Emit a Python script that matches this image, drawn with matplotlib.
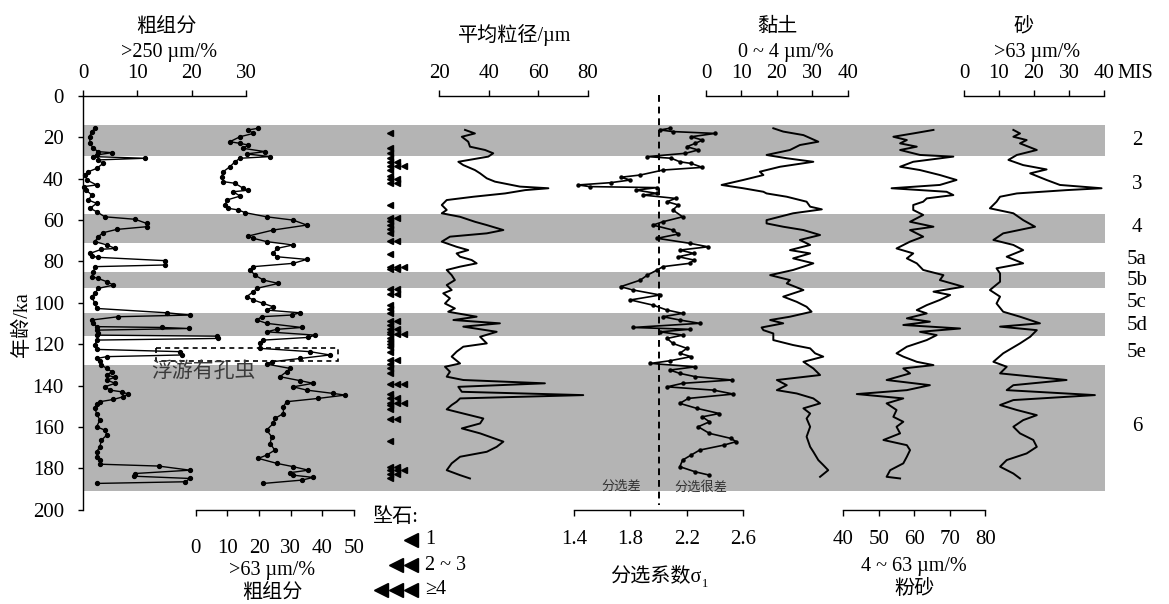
import matplotlib
matplotlib.use('Agg')
import matplotlib.pyplot as plt
from matplotlib.patches import Rectangle

plt.rcParams['font.family'] = ['Liberation Serif', 'Noto Sans CJK SC', 'DejaVu Sans']
plt.rcParams['axes.unicode_minus'] = False

# ---------------- data ----------------
age_ticks = [0, 20, 40, 60, 80, 100, 120, 140, 160, 180, 200]
mis_bands = [(14, 29), (57, 71), (85, 93), (105, 116), (130, 191)]
mis_labels = ['2', '3', '4', '5a', '5b', '5c', '5d', '5e', '6']
mis_ages = [21.6, 42.6, 63.5, 79, 89.4, 99.6, 111, 124, 160]

# coarse fraction >250 um (%)
c250_age = [15.6, 17.2, 19.7, 22.9, 25.3, 26.9, 27.4, 28.5, 29.3, 30.1, 30.9, 32.6, 35.0, 36.6, 38.2,
            40.6, 43.0, 43.8, 45.5, 47.9, 50.3, 51.9, 54.3, 55.9, 58.4, 59.6, 61.6, 63.2, 64.5, 66.1,
            68.0, 70.4, 72.0, 73.7, 74.1, 76.1, 77.4, 78.0, 79.6, 81.7, 82.5, 85.0, 87.4, 88.2, 89.8,
            91.4, 93.0, 95.4, 97.0, 100.3, 102.7, 104.8, 105.9, 106.7, 108.3, 109.9, 111.5, 111.9, 112.4,
            113.2, 114.4, 115.6, 116.1, 117.2, 118.0, 120.4, 122.5, 123.6, 125.2, 126.0, 126.9, 128.0,
            130.1, 131.7, 133.3, 134.9, 136.0, 137.3, 138.9, 140.6, 142.2, 143.0, 144.1, 145.4, 146.7,
            147.8, 148.9, 151.0, 153.5, 156.7, 159.9, 161.5, 163.9, 166.3, 169.6, 172.0, 174.4, 176.0,
            178.0, 178.9, 180.9, 182.5, 183.8, 184.9, 186.5, 187.3]
c250_val = [2.2, 1.6, 1.2, 1.3, 1.9, 2.8, 5.3, 2.5, 1.9, 11.4, 2.8, 3.7, 2.5, 1.0, 0.4,
            0.7, 2.5, 0.2, 0.6, 1.6, 1.0, 2.5, 1.3, 2.5, 4.0, 9.6, 11.7, 11.7, 6.2, 3.7,
            2.8, 2.2, 4.4, 5.9, 3.4, 1.3, 1.6, 2.8, 15.1, 15.1, 2.2, 1.9, 1.6, 2.8, 4.4,
            5.6, 2.8, 2.2, 1.6, 2.2, 2.5, 15.4, 19.7, 6.5, 1.6, 1.9, 2.5, 14.5, 19.5,
            2.5, 2.8, 2.5, 24.6, 24.9, 2.5, 2.2, 2.5, 17.9, 18.2, 4.4, 2.5, 3.1,
            3.4, 4.4, 5.3, 4.4, 5.9, 4.4, 5.9, 4.0, 5.0, 7.1, 8.3, 7.4, 5.6,
            3.1, 2.5, 2.2, 2.5, 3.1, 2.5, 4.0, 4.4, 3.4, 3.1, 2.5, 2.6, 3.1,
            3.1, 13.9, 19.7, 9.6, 9.3, 19.7, 18.8, 2.5]

# coarse fraction >63 um (%)
c63_age = [15.6, 16.4, 18.1, 19.7, 22.1, 22.9, 23.7, 25.3, 26.9, 28.0, 29.3, 30.1, 31.8, 34.2, 36.6,
           39.0, 41.4, 42.2, 44.6, 45.5, 46.3, 48.4, 50.3, 52.7, 54.3, 55.1, 56.4, 58.4, 60.0, 62.4,
           64.8, 67.7, 68.8, 70.4, 72.0, 73.7, 76.1, 77.7, 79.0, 80.9, 82.5, 84.1, 86.6, 89.0, 90.6,
           93.0, 94.6, 97.0, 98.6, 100.3, 101.9, 103.5, 104.8, 105.9, 106.7, 108.3, 109.9, 111.9, 112.8,
           114.0, 115.6, 116.7, 118.0, 119.6, 122.0, 123.6, 125.2, 126.9, 128.5, 129.6, 131.7, 133.3,
           135.7, 137.6, 138.9, 140.6, 142.2, 143.8, 144.6, 146.2, 147.8, 150.2, 153.5, 155.9, 158.3,
           161.5, 164.7, 168.0, 171.2, 173.6, 175.2, 177.6, 179.2, 180.9, 182.1, 183.3, 184.4, 185.7, 187.3]
c63_val = [19.8, 16.6, 18.2, 14.0, 10.8, 14.0, 16.6, 15.0, 21.9, 16.1, 23.5, 14.0, 12.4, 10.8, 8.7,
           8.2, 8.7, 12.4, 15.0, 16.6, 11.9, 14.0, 9.8, 9.3, 10.3, 13.5, 15.6, 22.4, 30.8, 35.1,
           24.5, 16.6, 18.2, 22.4, 30.8, 25.6, 24.5, 25.6, 35.1, 30.8, 18.2, 17.2, 18.7, 21.4, 26.1,
           19.3, 18.2, 16.1, 18.2, 21.4, 24.5, 22.4, 32.9, 30.3, 20.8, 19.3, 22.4, 33.5, 25.6,
           22.4, 37.7, 35.6, 21.4, 20.3, 20.3, 36.1, 42.4, 32.9, 24.0, 22.4, 29.8, 28.7,
           26.6, 32.9, 37.1, 30.8, 35.1, 43.5, 47.2, 38.7, 28.7, 27.7, 27.7, 25.0, 24.5,
           22.4, 24.0, 23.5, 25.0, 22.4, 19.8, 25.6, 30.8, 35.6, 29.8, 30.8, 37.1, 33.5, 21.4]

# dropstones (age ka, count of triangles)
drop_age = [17.7, 25.3, 27.7, 30.1, 31.8, 33.9, 35.8, 38.7, 40.3, 42.2, 52.7, 58.8, 60.3, 62.4, 64.5,
            66.4, 69.9, 76.4, 82.5, 83.8, 93.5, 95.7, 101.1, 103.2, 105.1, 108.6, 110.7, 112.8, 113.9,
            115.2, 117.2, 118.3, 119.9, 121.2, 123.6, 127.7, 129.6, 131.7, 134.1, 139.3, 144.1, 146.2,
            148.3, 149.4, 151.5, 156.3, 166.7, 179.2, 180.9, 182.5, 184.9]
drop_cnt = [1, 1, 1, 1, 2, 3, 1, 1, 2, 2, 1, 2, 1, 1, 1,
            1, 2, 1, 3, 2, 2, 2, 1, 1, 1, 2, 1, 2, 1,
            3, 1, 1, 1, 1, 1, 2, 1, 1, 1, 3, 1, 2,
            3, 1, 1, 2, 1, 2, 3, 2, 1]

# mean grain size (um)
mgs_age = [16.4, 18.1, 19.7, 22.1, 24.5, 26.1, 27.7, 29.3, 31.8, 33.4, 35.8, 37.4, 39.8, 41.4, 43.8,
           44.6, 45.5, 47.1, 48.7, 50.3, 52.7, 55.1, 56.7, 58.4, 60.8, 62.4, 64.8, 66.4, 68.0, 70.4,
           72.9, 74.5, 76.1, 77.7, 79.3, 80.9, 82.5, 84.1, 86.6, 89.0, 91.4, 93.8, 95.4, 97.8, 100.3,
           102.7, 104.3, 106.7, 108.3, 109.9, 111.5, 114.0, 116.4, 119.6, 121.2, 123.6, 126.0, 129.3,
           130.9, 133.3, 135.7, 137.3, 138.9, 140.6, 143.0, 144.6, 146.2, 147.8, 149.4, 151.5, 153.5,
           155.9, 158.3, 160.7, 163.1, 167.1, 169.6, 172.0, 174.4, 177.6, 180.9, 183.3, 184.9]
mgs_val = [30.4, 34.4, 29.1, 31.7, 32.4, 38.5, 41.8, 39.8, 27.7, 29.7, 34.4, 36.5, 39.2, 42.5, 52.6,
           64.1, 54.7, 46.6, 33.8, 23.0, 21.0, 23.0, 21.0, 28.4, 34.4, 39.2, 45.9, 39.2, 24.3, 21.0,
           27.0, 31.7, 27.0, 28.4, 33.1, 35.1, 28.4, 23.0, 25.0, 26.3, 23.0, 25.0, 21.6, 24.3, 22.3,
           26.3, 23.6, 35.1, 25.7, 44.5, 29.7, 43.2, 36.5, 39.2, 29.7, 27.0, 25.0, 28.4,
           22.3, 24.3, 23.0, 29.7, 62.7, 27.7, 29.1, 78.2, 28.4, 27.0, 25.0, 23.0, 29.7,
           37.8, 36.5, 29.1, 36.5, 45.9, 43.2, 39.2, 28.4, 25.0, 23.0, 28.4, 32.4]

# sorting coefficient sigma1
sig_age = [15.6, 16.4, 17.2, 18.1, 19.7, 21.3, 22.9, 24.5, 26.1, 27.7, 29.3, 30.1, 31.8, 32.6, 34.5,
           35.8, 38.2, 39.3, 40.6, 41.9, 43.0, 43.8, 44.3, 45.5, 47.1, 47.9, 49.5, 51.1, 52.7, 55.1,
           58.4, 60.8, 62.4, 64.8, 66.7, 68.8, 71.2, 72.9, 74.5, 76.1, 77.7, 79.3, 80.9, 82.5, 84.1,
           86.6, 89.0, 92.2, 93.8, 96.2, 98.6, 101.1, 103.5, 105.1, 106.7, 108.3, 109.9, 111.9, 112.8,
           114.0, 115.6, 117.2, 119.6, 122.0, 124.4, 126.0, 128.0, 129.3, 130.9, 132.5, 134.1, 135.7,
           137.3, 138.9, 140.6, 142.2, 144.1, 146.2, 148.6, 151.0, 153.5, 155.1, 157.5, 159.9, 163.1,
           165.5, 167.1, 168.8, 171.2, 173.6, 176.0, 179.2, 181.7, 183.3]
sig_val = [2.08, 2.01, 2.10, 2.40, 2.23, 2.31, 2.26, 2.20, 2.28, 2.19, 1.92, 2.09, 2.15, 2.23, 2.31,
           2.03, 1.87, 1.73, 1.80, 1.66, 1.43, 1.51, 1.99, 1.84, 1.99, 1.89, 2.12, 2.06, 2.14, 2.10,
           2.17, 2.03, 1.96, 2.10, 2.14, 1.99, 2.22, 2.35, 2.15, 2.25, 2.14, 2.25, 2.22, 2.03, 1.99,
           1.92, 1.87, 1.73, 1.82, 2.01, 1.80, 1.96, 2.06, 2.17, 2.03, 2.15, 2.29, 1.82, 2.22,
           2.01, 2.17, 2.06, 2.10, 2.20, 2.15, 2.23, 2.08, 1.94, 2.26, 2.08, 2.15, 2.26,
           2.52, 2.17, 2.06, 2.39, 2.53, 2.21, 2.15, 2.27, 2.43, 2.31, 2.36, 2.28, 2.36,
           2.51, 2.55, 2.46, 2.29, 2.23, 2.17, 2.15, 2.26, 2.36]
sort_threshold = 2.0

# clay 0-4 um (%)
clay_age = [15.6, 17.2, 18.9, 22.1, 23.7, 26.1, 28.5, 30.1, 31.8, 34.2, 36.6, 38.2, 40.6, 43.0, 44.6,
            46.3, 47.1, 48.7, 51.1, 53.5, 54.8, 56.7, 60.0, 61.6, 63.2, 64.8, 67.2, 69.6, 72.0, 74.5,
            76.1, 78.5, 80.9, 82.5, 84.1, 86.6, 89.0, 90.6, 93.8, 97.0, 99.5, 101.9, 104.3, 106.7,
            108.3, 109.9, 111.9, 113.2, 114.8, 118.0, 120.4, 122.0, 124.4, 126.0, 128.5, 131.7, 134.9,
            137.3, 139.8, 142.2, 143.8, 146.2, 148.6, 151.0, 153.5, 155.9, 159.9, 164.7, 169.6, 172.0,
            176.0, 178.4, 180.9, 184.1]
clay_val = [19.0, 21.8, 27.5, 31.7, 26.5, 23.7, 17.1, 22.8, 30.3, 20.9, 15.2, 16.2, 10.5, 4.4, 10.5,
            16.2, 17.1, 22.8, 28.4, 29.4, 32.7, 24.6, 17.1, 17.1, 21.8, 27.5, 32.2, 26.5, 29.4, 23.7,
            29.4, 24.6, 30.3, 27.5, 24.6, 18.1, 23.7, 22.8, 27.5, 21.8, 25.6, 28.4, 29.8, 23.7,
            18.1, 21.8, 15.7, 16.2, 19.0, 19.0, 24.6, 29.4, 30.8, 33.1, 27.5, 30.3, 32.2,
            20.0, 22.8, 20.0, 25.6, 30.3, 32.2, 27.5, 29.4, 28.4, 29.4, 28.4, 29.4, 30.3,
            31.7, 33.1, 34.5, 32.2]

# silt 4-63 um (%)
silt_age = [16.4, 18.1, 19.7, 21.3, 22.9, 24.5, 26.1, 28.5, 29.3, 31.8, 34.2, 35.8, 38.2, 40.6, 43.0,
            44.6, 46.3, 47.9, 49.5, 51.1, 52.7, 55.1, 57.5, 60.8, 63.2, 64.8, 68.0, 70.4, 73.7, 76.1,
            78.5, 80.9, 84.1, 86.6, 89.0, 92.2, 94.6, 96.2, 98.6, 101.1, 103.5, 105.1, 107.5, 109.1,
            110.7, 112.4, 114.0, 115.6, 118.0, 121.2, 124.4, 126.0, 128.5, 130.1, 131.7, 134.1, 137.3,
            139.8, 142.2, 144.1, 146.2, 148.6, 151.8, 155.1, 157.5, 159.9, 163.1, 166.3, 168.8, 171.2,
            174.4, 177.6, 180.9, 184.1, 184.9]
silt_val = [65.4, 59.7, 54.1, 57.9, 56.0, 60.7, 56.0, 61.6, 71.0, 59.7, 56.0, 61.6, 67.2, 71.9, 67.2,
            53.6, 69.1, 71.0, 63.5, 62.5, 59.7, 59.7, 62.5, 58.8, 65.4, 58.8, 62.5, 58.8, 55.0, 59.7,
            57.9, 60.7, 62.5, 68.2, 67.2, 73.8, 65.4, 70.1, 67.2, 63.5, 60.7, 63.5, 57.9, 64.4,
            56.9, 72.9, 61.6, 66.3, 63.5, 57.9, 55.0, 56.9, 60.7, 65.4, 56.9, 58.8, 52.2,
            64.4, 57.9, 43.8, 56.9, 52.2, 55.0, 54.1, 56.9, 55.0, 56.0, 51.3, 57.9, 58.8,
            57.9, 56.9, 53.2, 52.2, 56.0]

# sand >63 um (%)
sand_age = [16.4, 18.1, 19.7, 21.3, 22.9, 26.1, 28.5, 30.9, 33.4, 35.5, 37.4, 40.6, 43.0, 44.6, 45.5,
            47.1, 48.7, 51.1, 54.3, 56.7, 60.0, 63.2, 66.4, 69.6, 72.0, 74.5, 77.7, 80.9, 83.3, 85.8,
            89.8, 93.8, 97.0, 100.3, 104.3, 106.7, 109.9, 111.5, 113.2, 116.4, 119.6, 124.4, 128.5,
            130.9, 134.1, 137.3, 139.8, 142.2, 144.6, 147.0, 149.4, 151.8, 154.3, 156.7, 159.9, 163.1,
            166.3, 169.6, 172.8, 176.0, 179.2, 182.5, 184.9]
sand_val = [14.1, 16.0, 14.1, 17.9, 16.0, 20.8, 15.1, 12.7, 16.9, 23.6, 18.9, 23.6, 27.4, 39.3, 29.3,
            15.1, 10.3, 9.3, 7.4, 14.1, 16.9, 20.3, 11.2, 8.4, 14.1, 16.9, 12.2, 16.9, 9.3, 10.3,
            10.3, 7.4, 10.3, 9.3, 11.2, 16.0, 21.7, 10.3, 20.8, 18.9, 16.0, 11.2, 8.4,
            12.2, 10.3, 29.3, 14.1, 12.2, 37.4, 14.1, 10.3, 15.1, 20.8, 16.9, 14.1, 16.0,
            19.8, 20.8, 17.9, 12.2, 10.3, 14.1, 16.0]

# ---------------- layout ----------------
W, H = 1169, 604
Y0, Y1 = 96.0, 509.7
FS = 15
GREY = '#b4b4b4'

fig = plt.figure(figsize=(W / 100, H / 100), dpi=100)


def rect(x0, x1):
    return [x0 / W, 1 - Y1 / H, (x1 - x0) / W, (Y1 - Y0) / H]


ax = fig.add_axes(rect(83, 1105))
ax.set_xlim(0, 1)
ax.set_ylim(200, 0)
for s in ['top', 'right', 'bottom']:
    ax.spines[s].set_visible(False)
ax.spines['left'].set_linewidth(1.0)
ax.set_xticks([])
ax.set_yticks(age_ticks)
ax.tick_params(axis='y', direction='out', length=3.8, width=1, pad=10, labelsize=FS)
for a, b in mis_bands:
    ax.axhspan(a, b, color=GREY, lw=0, zorder=0)
tr = ax.get_yaxis_transform()
for lab, ag in zip(mis_labels, mis_ages):
    ax.text((1137 - 83) / (1105 - 83), ag, lab, transform=tr, ha='center', va='center',
            fontsize=FS, clip_on=False)


def scale_axis(x0, x1, lim, ticks, side, pad, ticklabels=None):
    a = fig.add_axes(rect(x0, x1))
    a.patch.set_visible(False)
    a.set_xlim(*lim)
    a.set_ylim(200, 0)
    for s in a.spines:
        a.spines[s].set_visible(s == side)
    a.spines[side].set_linewidth(1.0)
    a.set_yticks([])
    a.set_xticks(ticks)
    if ticklabels is not None:
        a.set_xticklabels(ticklabels)
    a.xaxis.set_ticks_position(side)
    a.tick_params(axis='x', direction='out', length=4.3, width=1, pad=pad, labelsize=FS)
    return a


a250 = scale_axis(83, 246, (0, 30), [0, 10, 20, 30], 'top', 5)
a250.plot(c250_val, c250_age, color='k', lw=1.0, marker='o', ms=2.8, clip_on=False)
a250.add_patch(Rectangle((13.5, 122), 33.5, 6, fill=False, ls=(0, (3, 2.5)), lw=1.2,
                         ec='k', clip_on=False))

a63 = scale_axis(195.7, 354, (0, 50), [0, 10, 20, 30, 40, 50], 'bottom', 17)
a63.plot(c63_val, c63_age, color='k', lw=1.0, marker='o', ms=2.8, clip_on=False)

adrop = fig.add_axes(rect(382.5, 410.5))
adrop.patch.set_visible(False)
adrop.set_xlim(0, 4)
adrop.set_ylim(200, 0)
adrop.axis('off')
for ag, n in zip(drop_age, drop_cnt):
    adrop.plot(list(range(1, n + 1)), [ag] * n, ls='none', marker='<', ms=4.5, color='k',
               clip_on=False)

amgs = scale_axis(439.3, 587.7, (20, 80), [20, 40, 60, 80], 'top', 5)
amgs.plot(mgs_val, mgs_age, color='k', lw=1.4, clip_on=False)

asig = scale_axis(574, 743.3, (1.4, 2.6), [1.4, 1.8, 2.2, 2.6], 'bottom', 10,
                  ['1.4', '1.8', '2.2', '2.6'])
asig.plot(sig_val, sig_age, color='k', lw=1.2, marker='o', ms=2.2, clip_on=False)
asig.plot([sort_threshold, sort_threshold], [-0.5, 197.5], color='k', lw=1.4,
          ls=(0, (3.5, 2.5)), clip_on=False)

aclay = scale_axis(706, 847.7, (0, 40), [0, 10, 20, 30, 40], 'top', 5)
aclay.plot(clay_val, clay_age, color='k', lw=1.4, clip_on=False)

asilt = scale_axis(843.3, 985.3, (40, 80), [40, 50, 60, 70, 80], 'bottom', 10)
asilt.plot(silt_val, silt_age, color='k', lw=1.4, clip_on=False)

asand = scale_axis(964, 1104, (0, 40), [0, 10, 20, 30, 40], 'top', 5)
asand.plot(sand_val, sand_age, color='k', lw=1.4, clip_on=False)

# ---------------- annotation layer (pixel coordinates) ----------------
lay = fig.add_axes([0, 0, 1, 1])
lay.set_xlim(0, W)
lay.set_ylim(H, 0)
lay.axis('off')
lay.patch.set_visible(False)

kw = dict(ha='center', va='center', fontsize=14.5)
lay.text(166, 27, '粗组分', **kw)
lay.text(169, 52, '>250 µm/%', **kw)
lay.text(515, 35, '平均粒径/µm', **kw)
lay.text(777, 27, '黏土', **kw)
lay.text(786, 52, '0 ~ 4 µm/%', **kw)
lay.text(1024, 27, '砂', **kw)
lay.text(1037, 52, '>63 µm/%', **kw)
lay.text(1117, 73, 'MIS', ha='left', va='center', fontsize=14.5)
lay.text(22, 325, '年龄/ka', rotation=90, **kw)

lay.text(272, 571, '>63 µm/%', **kw)
lay.text(272, 593, '粗组分', **kw)
t = lay.text(656, 577, '分选系数σ', **kw)
lay.annotate('1', xy=(1.0, 0.12), xycoords=t, xytext=(0.5, 0), textcoords='offset points',
             ha='left', va='center', fontsize=9)
lay.text(914, 567, '4 ~ 63 µm/%', **kw)
lay.text(915, 589, '粉砂', **kw)

lay.text(621, 487, '分选差', ha='center', va='center', fontsize=9.5, color='#333333')
lay.text(701, 487, '分选很差', ha='center', va='center', fontsize=9.5, color='#333333')
lay.text(203, 372, '浮游有孔虫', ha='center', va='center', fontsize=15, color='#3a3a3a')

# dropstone legend
lay.text(373, 518, '坠石:', ha='left', va='center', fontsize=14.5)
leg_counts = [1, 2, 3]
leg_labels = ['1', '2 ~ 3', '≥4']
leg_y = [540, 565, 590]
for n, lab, yy in zip(leg_counts, leg_labels, leg_y):
    xs = [411 - 15 * i for i in range(n)]
    lay.plot(xs, [yy] * n, ls='none', marker='<', ms=10, color='k')
    lay.text(425, yy, lab, ha='left', va='center', fontsize=14.5)

fig.savefig('out.png', dpi=100)
